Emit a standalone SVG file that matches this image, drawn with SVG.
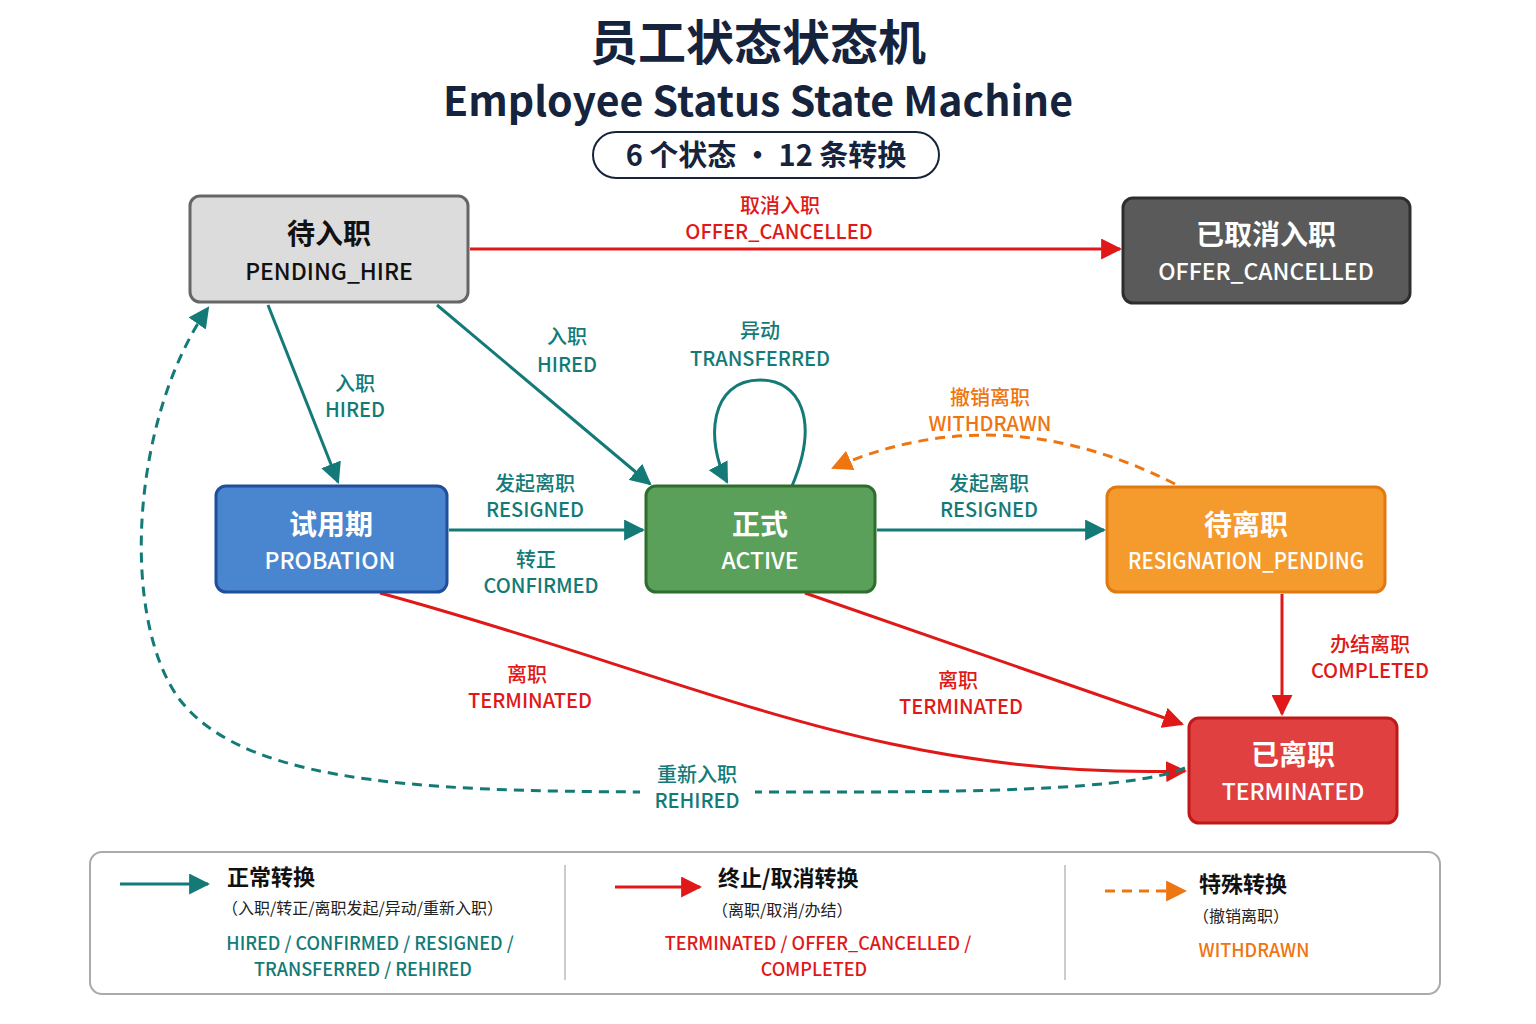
<svg xmlns="http://www.w3.org/2000/svg" width="1536" height="1024" viewBox="0 0 1536 1024">
<style>
text{font-family:"Noto Sans CJK SC","Liberation Sans",sans-serif;text-anchor:middle}
.t1{font-size:48px;font-weight:700;fill:#15233d}
.t2{font-size:41px;font-weight:700;fill:#15233d}
.zh{font-size:28px;font-weight:700}
.en{font-size:23px;font-weight:500}
.lb{font-size:20px;font-weight:500}
.teal{fill:#137a77}.red{fill:#e01818}.org{fill:#ee7510}
.ct{stroke:#137a77;stroke-width:3;fill:none}
.cr{stroke:#e01818;stroke-width:3;fill:none}
.co{stroke:#ee7510;stroke-width:3;fill:none;stroke-dasharray:10 7}
.lh{font-size:22px;font-weight:700;fill:#111;text-anchor:start}
.ls{font-size:16px;fill:#222;text-anchor:start}
</style>
<defs>
<marker id="at" viewBox="0 0 10 10" refX="9" refY="5" markerWidth="7" markerHeight="7" orient="auto"><path d="M0,0L10,5L0,10z" fill="#137a77"/></marker>
<marker id="ar" viewBox="0 0 10 10" refX="9" refY="5" markerWidth="7" markerHeight="7" orient="auto"><path d="M0,0L10,5L0,10z" fill="#e01818"/></marker>
<marker id="ao" viewBox="0 0 10 10" refX="9" refY="5" markerWidth="7" markerHeight="7" orient="auto"><path d="M0,0L10,5L0,10z" fill="#ee7510"/></marker>
</defs>
<rect width="1536" height="1024" fill="#fff"/>
<text class="t1" x="758" y="60">员工状态状态机</text>
<text class="t2" x="758" y="116">Employee Status State Machine</text>
<rect x="593" y="132" width="346" height="46" rx="23" fill="#fff" stroke="#15233d" stroke-width="2"/>
<text x="766" y="166" style="font-size:29px;font-weight:700;fill:#15233d">6 个状态 · 12 条转换</text>

<g id="connectors">
<path class="cr" marker-end="url(#ar)" d="M470 249L1120 249"/>
<path class="ct" marker-end="url(#at)" d="M268 305L338 482"/>
<path class="ct" marker-end="url(#at)" d="M437 305L650 484"/>
<path class="ct" marker-end="url(#at)" d="M792 486C820 420 800 380 760 380C710 380 705 440 727 482"/>
<path class="ct" marker-end="url(#at)" d="M449 530L643 530"/>
<path class="ct" marker-end="url(#at)" d="M877 530L1104 530"/>
<path class="co" marker-end="url(#ao)" d="M1175 484Q1000 395 833 468"/>
<path class="cr" marker-end="url(#ar)" d="M1282 594L1282 714"/>
<path class="cr" marker-end="url(#ar)" d="M380 593C700 680 880 780 1185 771"/>
<path class="cr" marker-end="url(#ar)" d="M805 593L1182 724"/>
<path class="ct" stroke-dasharray="10 7" marker-end="url(#at)" d="M1185 768C1120 795 900 792 700 792C450 792 250 790 180 700C120 620 130 420 208 308"/>
<rect x="640" y="760" width="115" height="55" fill="#fff"/>
<text class="lb red" x="780" y="213">取消入职</text><text class="lb red" x="779" y="239">OFFER_CANCELLED</text>
<text class="lb teal" x="355" y="391">入职</text><text class="lb teal" x="355" y="417">HIRED</text>
<text class="lb teal" x="567" y="344">入职</text><text class="lb teal" x="567" y="372">HIRED</text>
<text class="lb teal" x="760" y="338">异动</text><text class="lb teal" x="760" y="366">TRANSFERRED</text>
<text class="lb teal" x="535" y="491">发起离职</text><text class="lb teal" x="535" y="517">RESIGNED</text>
<text class="lb teal" x="536" y="567">转正</text><text class="lb teal" x="541" y="593">CONFIRMED</text>
<text class="lb teal" x="989" y="491">发起离职</text><text class="lb teal" x="989" y="517">RESIGNED</text>
<text class="lb org" x="990" y="405">撤销离职</text><text class="lb org" x="990" y="431">WITHDRAWN</text>
<text class="lb red" x="1370" y="652">办结离职</text><text class="lb red" x="1370" y="678">COMPLETED</text>
<text class="lb red" x="527" y="682">离职</text><text class="lb red" x="530" y="708">TERMINATED</text>
<text class="lb red" x="958" y="688">离职</text><text class="lb red" x="961" y="714">TERMINATED</text>
<text class="lb teal" x="697" y="782">重新入职</text><text class="lb teal" x="697" y="808">REHIRED</text>
</g>

<g id="pending_hire"><rect x="190" y="196" width="278" height="106" rx="10" fill="#dcdcdc" stroke="#666" stroke-width="3"/>
<text class="zh" x="329" y="244" fill="#111">待入职</text><text class="en" x="329" y="280" fill="#111">PENDING_HIRE</text></g>
<g id="offer_cancelled"><rect x="1123" y="198" width="287" height="105" rx="10" fill="#5a5a5a" stroke="#2e2e2e" stroke-width="3"/>
<text class="zh" x="1266" y="245" fill="#fff">已取消入职</text><text class="en" x="1266" y="280" fill="#fff">OFFER_CANCELLED</text></g>
<g id="probation"><rect x="216" y="486" width="231" height="106" rx="10" fill="#4a86d0" stroke="#1f4e9a" stroke-width="3"/>
<text class="zh" x="331" y="535" fill="#fff">试用期</text><text class="en" x="330" y="569" fill="#fff">PROBATION</text></g>
<g id="active"><rect x="646" y="486" width="229" height="106" rx="10" fill="#5aa05a" stroke="#2d6e2d" stroke-width="3"/>
<text class="zh" x="760" y="535" fill="#fff">正式</text><text class="en" x="760" y="569" fill="#fff">ACTIVE</text></g>
<g id="resignation_pending"><rect x="1107" y="487" width="278" height="105" rx="10" fill="#f59a2c" stroke="#e07a10" stroke-width="3"/>
<text class="zh" x="1246" y="535" fill="#fff">待离职</text><text class="en" x="1246" y="569" fill="#fff" textLength="236" lengthAdjust="spacingAndGlyphs">RESIGNATION_PENDING</text></g>
<g id="terminated"><rect x="1189" y="718" width="208" height="105" rx="10" fill="#e04040" stroke="#c01818" stroke-width="3"/>
<text class="zh" x="1293" y="765" fill="#fff">已离职</text><text class="en" x="1293" y="800" fill="#fff">TERMINATED</text></g>

<g id="legend">
<rect x="90" y="852" width="1350" height="142" rx="12" fill="#fff" stroke="#aaa" stroke-width="2"/>
<path d="M565 865V980M1065 865V980" stroke="#ccc" stroke-width="2"/>
<path class="ct" marker-end="url(#at)" d="M120 884L208 884"/>
<text class="lh" x="227" y="885">正常转换</text>
<text class="ls" x="222" y="914">（入职/转正/离职发起/异动/重新入职）</text>
<text class="lb teal" x="370" y="950" style="font-size:18px">HIRED / CONFIRMED / RESIGNED /</text>
<text class="lb teal" x="363" y="976" style="font-size:18px">TRANSFERRED / REHIRED</text>
<path class="cr" marker-end="url(#ar)" d="M615 887L700 887"/>
<text class="lh" x="718" y="886">终止/取消转换</text>
<text class="ls" x="712" y="916">（离职/取消/办结）</text>
<text class="lb red" x="818" y="950" style="font-size:18px">TERMINATED / OFFER_CANCELLED /</text>
<text class="lb red" x="814" y="976" style="font-size:18px">COMPLETED</text>
<path class="co" marker-end="url(#ao)" d="M1105 891L1185 891"/>
<text class="lh" x="1199" y="892">特殊转换</text>
<text class="ls" x="1193" y="922">（撤销离职）</text>
<text class="lb org" x="1254" y="957" style="font-size:18px">WITHDRAWN</text>
</g>
</svg>
